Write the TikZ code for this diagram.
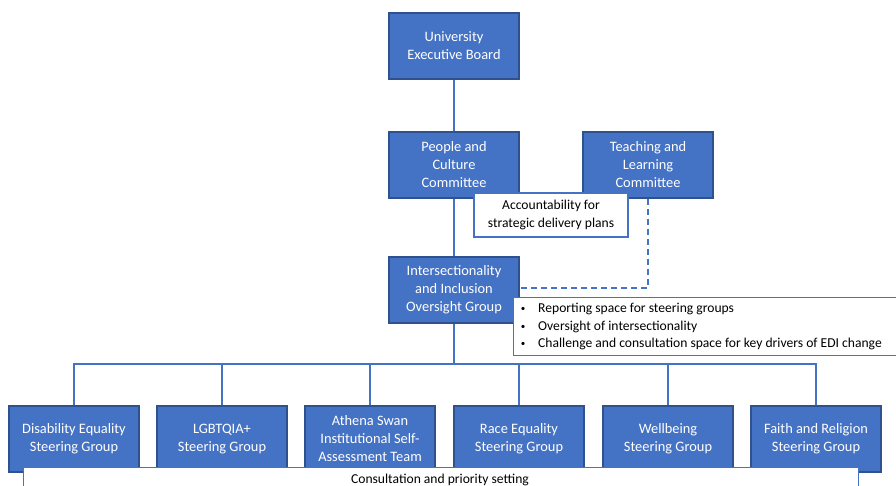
\documentclass[tikz,border=0pt]{standalone}
\usepackage{fontspec}
\setmainfont{Carlito}
\definecolor{boxblue}{HTML}{4472C4}
\definecolor{boxborder}{HTML}{2F528F}
\definecolor{lineblue}{HTML}{4472C4}
\begin{document}
\begin{tikzpicture}[x=1pt,y=-1pt,
  orgbox/.style={draw=boxborder, fill=boxblue, line width=1.3pt, text=white, align=center,
    minimum width=130pt, minimum height=66pt, inner sep=0pt, font=\fontsize{14.4}{18}\selectfont},
  conn/.style={draw=lineblue, line width=1.3pt},
  dconn/.style={conn, dash pattern=on 6pt off 4pt},
  notebox/.style={draw=lineblue, fill=white, line width=1.3pt},
  notetext/.style={font=\fontsize{13.6}{18}\selectfont, align=center, inner sep=0pt},
  bullettext/.style={font=\fontsize{13.6}{16}\selectfont, anchor=west, inner sep=0pt}]
\useasboundingbox (0,0) rectangle (896,486);
\clip (0,0) rectangle (896,486);
% nodes
\node[orgbox] (ueb) at (454,46) {University\\Executive Board};
\node[orgbox] (pcc) at (454,165) {People and\\Culture\\Committee};
\node[orgbox] (tlc) at (648,165) {Teaching and\\Learning\\Committee};
\node[orgbox] (iiog) at (454,290) {Intersectionality\\and Inclusion\\Oversight Group};
\node[orgbox] (dis) at (74,439) {Disability Equality\\Steering Group};
\node[orgbox] (lgb) at (222,439) {LGBTQIA+\\Steering Group};
\node[orgbox] (ath) at (370,439) {Athena Swan\\Institutional Self-\\Assessment Team};
\node[orgbox] (rac) at (519,439) {Race Equality\\Steering Group};
\node[orgbox] (wel) at (668,439) {Wellbeing\\Steering Group};
\node[orgbox] (fai) at (816,439) {Faith and Religion\\Steering Group};
\coordinate (bus) at (454,364);
% connectors
\draw[conn] (ueb.south) -- (pcc.north);
\draw[conn] (pcc.south) -- (iiog.north);
\draw[dconn] (tlc.south) |- ([yshift=2pt]iiog.east);
\draw[conn] (iiog.south) -- (bus);
\foreach \c in {dis,lgb,ath,rac,wel,fai}{
  \draw[conn] (bus) -| (\c.north);
}
% redraw boxes on top of connector ends
\node[orgbox] at (ueb) {University\\Executive Board};
\node[orgbox] at (pcc) {People and\\Culture\\Committee};
\node[orgbox] at (tlc) {Teaching and\\Learning\\Committee};
\node[orgbox] at (iiog) {Intersectionality\\and Inclusion\\Oversight Group};
% accountability label
\node[notebox, notetext, minimum width=154pt, minimum height=44pt] (acc) at (551,215) {Accountability for\\strategic delivery plans};
% bullet box
\node[notebox, anchor=north west, minimum width=400pt, minimum height=58pt, inner sep=0pt] (bul) at (513,297) {};
\node[bullettext] (b1) at (538,309) {Reporting space for steering groups};
\node[bullettext] (b2) at (538,327) {Oversight of intersectionality};
\node[bullettext] (b3) at (538,344) {Challenge and consultation space for key drivers of EDI change};
\foreach \b in {b1,b2,b3}{
  \node[font=\fontsize{9}{10}\selectfont, inner sep=0pt] at ([xshift=-15pt]\b.west) {\textbullet};
}
% consultation box
\node[notebox, anchor=north west, minimum width=835pt, minimum height=40pt, inner sep=0pt] (con) at (23,467) {};
\node[notetext] (contxt) at (440,480) {Consultation and priority setting};
\end{tikzpicture}
\end{document}
